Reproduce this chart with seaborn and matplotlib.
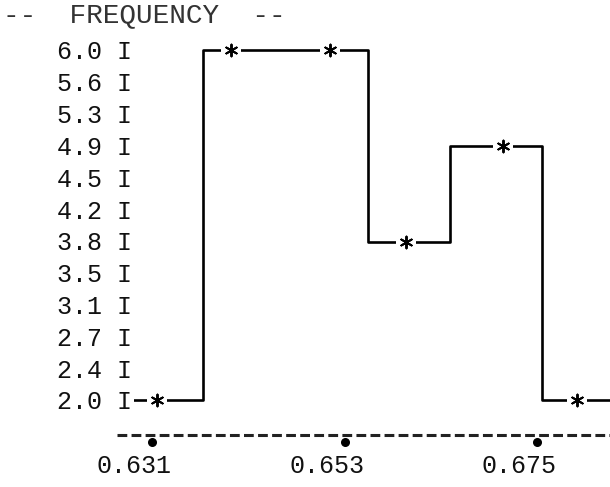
import numpy as np
import matplotlib
matplotlib.use("Agg")
import matplotlib.pyplot as plt
import matplotlib.transforms as mtransforms
import seaborn as sns

# ==============================
# DATA
# ==============================
bin_edges = [0.6285, 0.6368, 0.6557, 0.6651, 0.6756, 0.6840]
bin_freq = [2.0, 6.0, 3.8, 4.9, 2.0]

point_x = [0.6316, 0.6400, 0.6513, 0.6600, 0.6711, 0.6796]
point_y = [2.0, 6.0, 6.0, 3.8, 4.9, 2.0]

ytick_labels = ["6.0", "5.6", "5.3", "4.9", "4.5", "4.2",
                "3.8", "3.5", "3.1", "2.7", "2.4", "2.0"]
xtick_vals = [0.631, 0.653, 0.675]
xtick_labels = ["0.631", "0.653", "0.675"]

# ==============================
# STYLE
# ==============================
sns.set_style("white")
plt.rcParams["font.family"] = ["Liberation Mono", "DejaVu Sans Mono"]

W, H = 610, 487
fig = plt.figure(figsize=(W / 100, H / 100), dpi=100)
left_px, bottom_px = 134, 435
ax = fig.add_axes([left_px / W, (H - bottom_px) / H, (W - left_px) / W, bottom_px / H])

ax.set_xlim(0.62894, 0.68334)
ax.set_ylim(1.6, 6.5714)

# step outline
sns.lineplot(x=bin_edges, y=bin_freq + [bin_freq[-1]], ax=ax,
             drawstyle="steps-post", color="black", linewidth=1.9,
             estimator=None, sort=False)

# gaps behind the asterisks, then the asterisks
sns.scatterplot(x=point_x, y=point_y, ax=ax, marker="s", s=14 ** 2,
                color="white", linewidth=0, zorder=3)
sns.scatterplot(x=point_x, y=point_y, ax=ax, marker=(6, 2, 0), s=8.5 ** 2,
                color="black", edgecolor="black", linewidth=1.4, zorder=4)

# y axis drawn with "I" characters like the line printer
ypos = np.linspace(6.0, 2.0, len(ytick_labels))
ax.set_yticks(ypos)
ax.set_yticklabels([f"{t} I" for t in ytick_labels], fontsize=18, color="#111111")
ax.tick_params(axis="y", length=0, pad=1.5)

# x axis: dashed line with dot ticks
ax.set_xticks(xtick_vals)
ax.set_xticklabels(xtick_labels, fontsize=18, color="#111111")
ax.tick_params(axis="x", length=0, pad=14)
shift = mtransforms.ScaledTranslation(-18 / 100, 0, fig.dpi_scale_trans)
for lab in ax.get_xticklabels():
    lab.set_transform(lab.get_transform() + shift)

for s in ["top", "right", "left"]:
    ax.spines[s].set_visible(False)
bottom = ax.spines["bottom"]
bottom.set_linestyle((0, (3.2, 1.4)))
bottom.set_linewidth(2.2)
bottom.set_color("#222222")
bottom.set_capstyle("butt")
bottom.set_bounds(0.6270, 0.68334)

dot_tr = mtransforms.blended_transform_factory(ax.transData, ax.transAxes)
ax.scatter(xtick_vals, [-0.016] * 3, s=30, color="black", transform=dot_tr,
           clip_on=False, zorder=5)

fig.text(3 / W, 1 - 15 / H, "--  FREQUENCY  --", fontsize=20, color="#333333",
         ha="left", va="center")

fig.savefig("out.png", dpi=100, facecolor="white")
